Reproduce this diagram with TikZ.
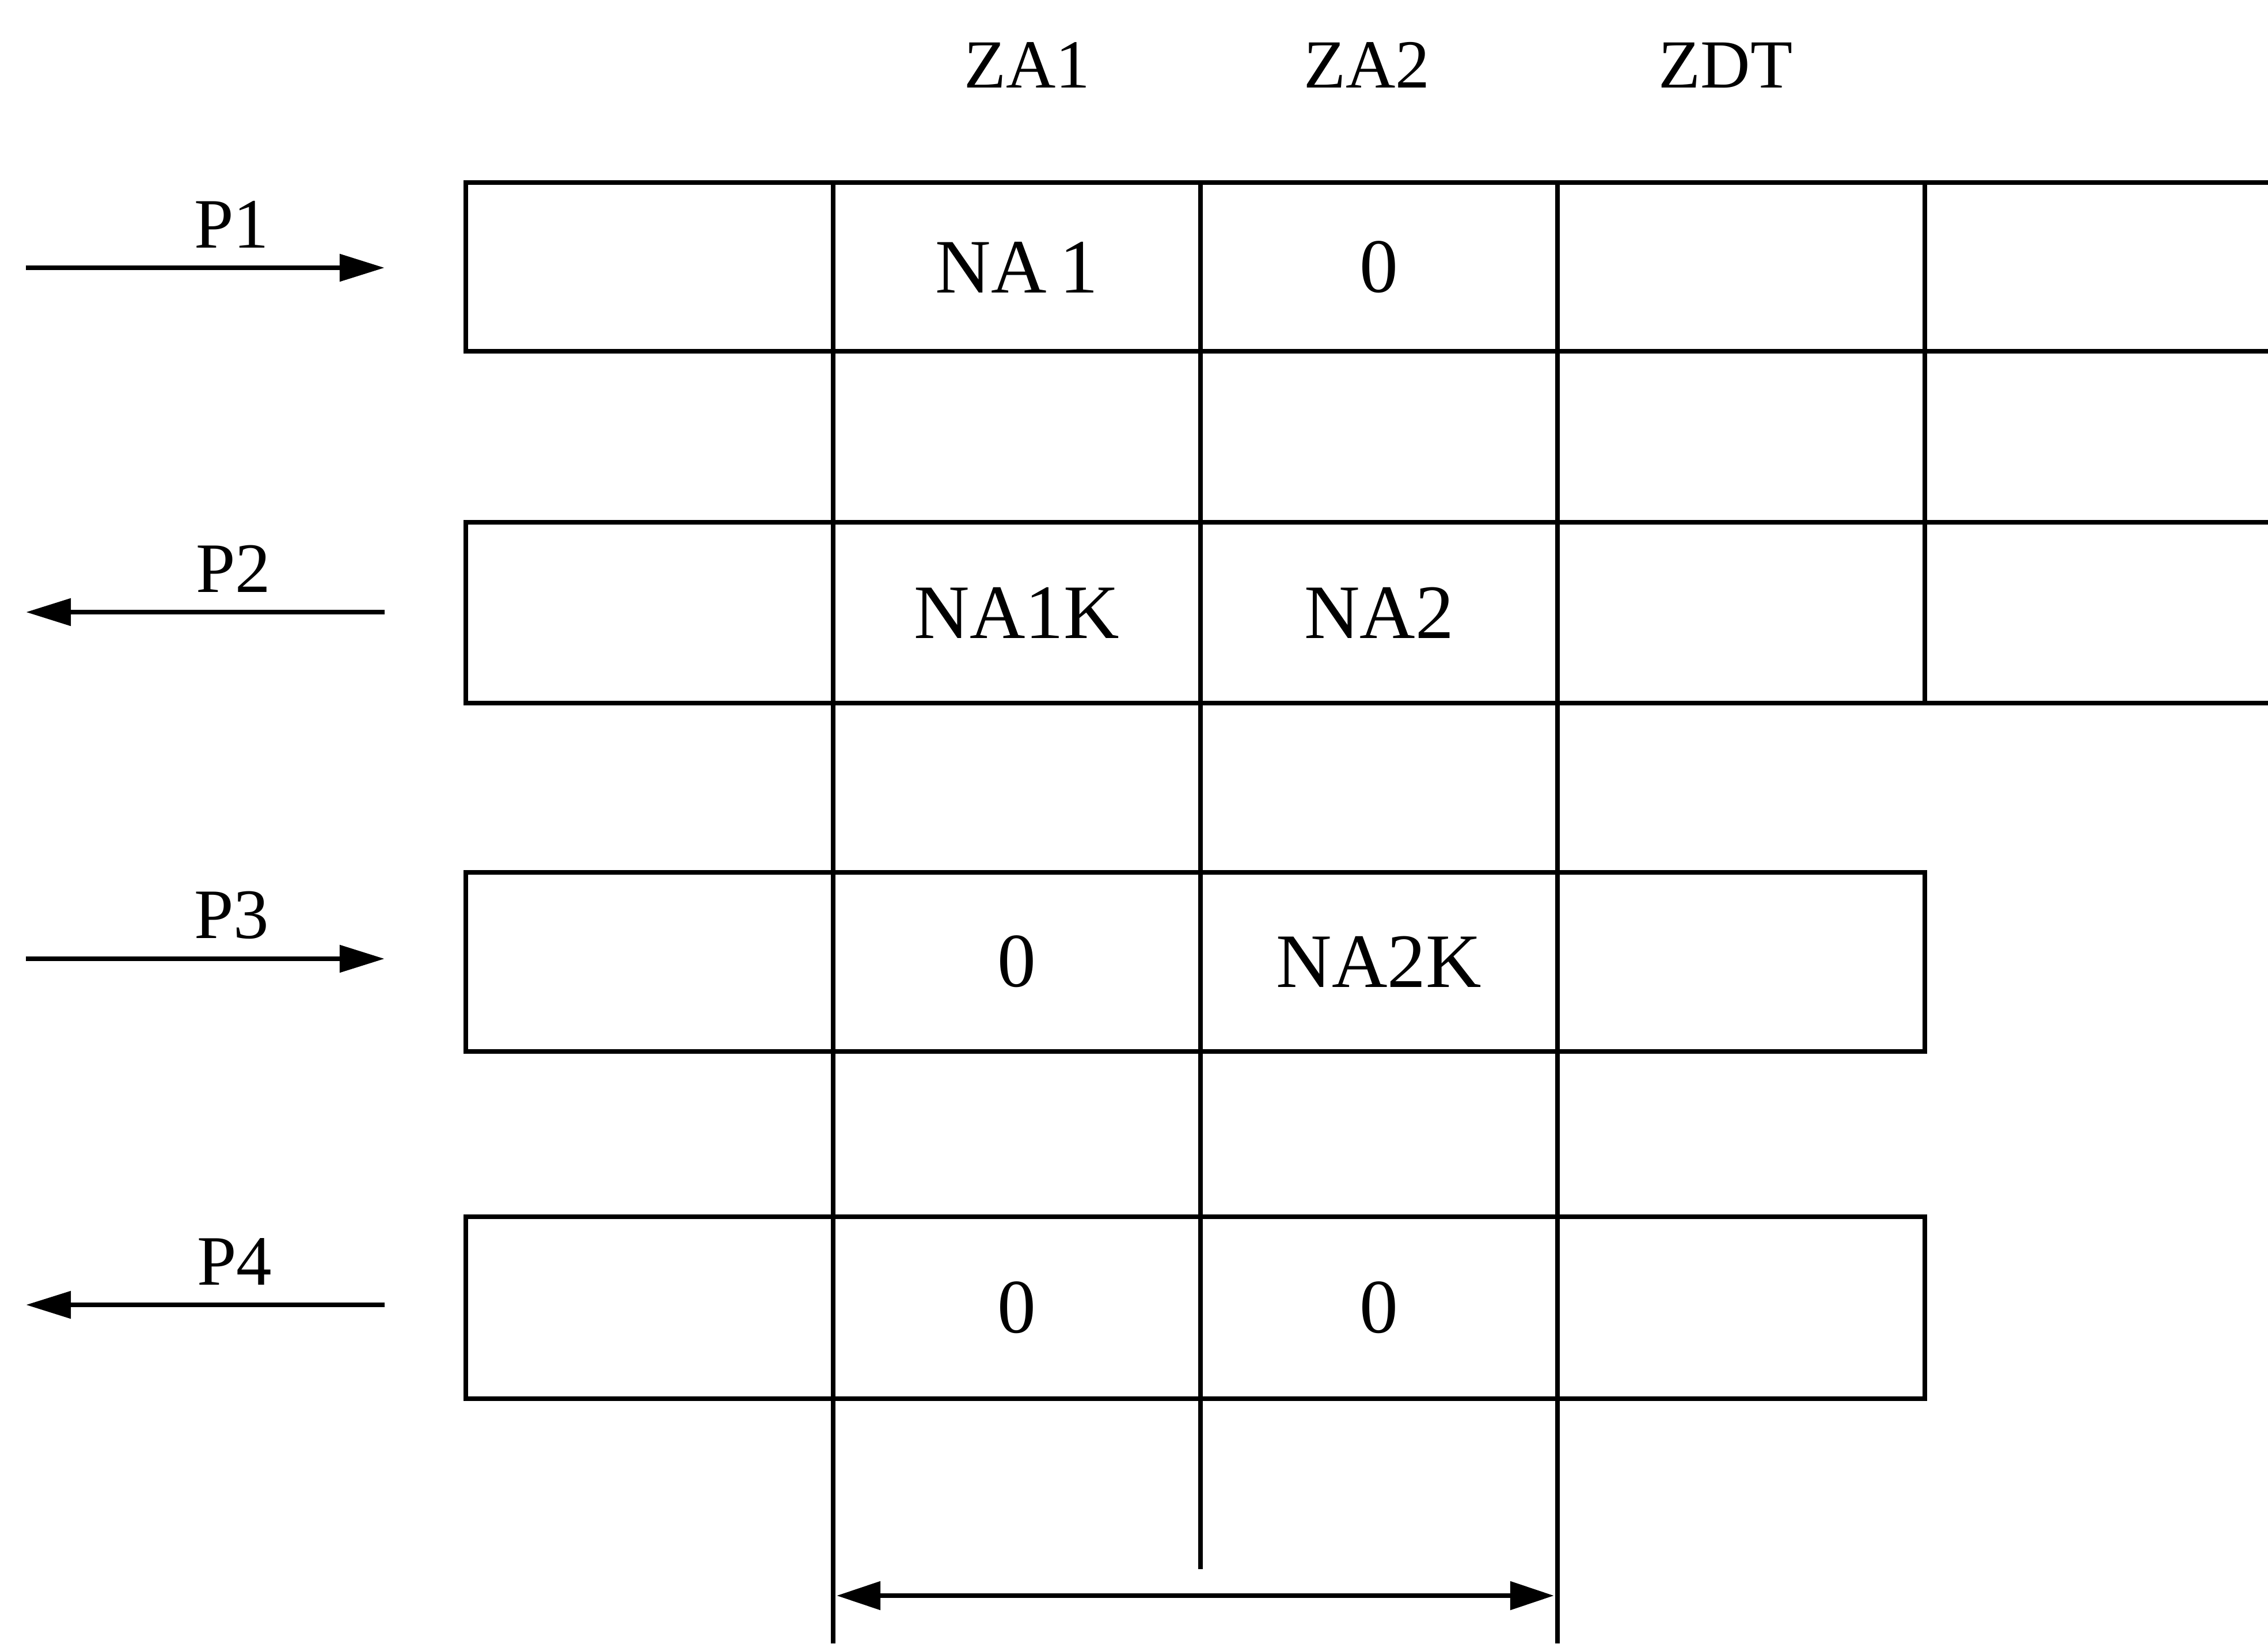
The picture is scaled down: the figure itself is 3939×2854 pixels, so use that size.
\documentclass[tikz,border=0pt]{standalone}
\usepackage{fontspec}
\setmainfont{Liberation Serif}
\usetikzlibrary{arrows.meta}
\begin{document}
\begin{tikzpicture}[x=0.01cm,y=-0.01cm,line width=2.5pt,
  hdr/.style={font=\fontsize{34}{36}\selectfont,inner sep=0pt},
  cell/.style={font=\fontsize{38}{40}\selectfont,inner sep=0pt},
  plab/.style={font=\fontsize{35}{37}\selectfont,inner sep=0pt,anchor=south},
  flow/.style={-{Triangle[length=0.78cm,width=0.46cm]}},
  dimarrow/.style={{Triangle[length=0.76cm,width=0.48cm]}-{Triangle[length=0.76cm,width=0.48cm]}}]
\useasboundingbox (0,0) rectangle (3939,2854);

% headers
\node[hdr] (za1) at (1784,113) {ZA1};
\node[hdr] (za2) at (2374,113) {ZA2};
\node[hdr] (zdt) at (2997,113) {ZDT};

% boxes P1 and P2 (open to the right)
\draw (3939,317) -- (809,317) -- (809,610) -- (3939,610);
\draw (3939,907) -- (809,907) -- (809,1221) -- (3939,1221);
% boxes P3 and P4
\draw (809,1515) rectangle (3343,1826);
\draw (809,2113) rectangle (3343,2429);

% vertical lines
\draw (1447,317) -- (1447,2854);
\draw (2085,317) -- (2085,2725);
\draw (2705,317) -- (2705,2854);
\draw (3343,317) -- (3343,1221);

% cell texts
\node[cell] (c11) at (1766,464) {NA\,1};
\node[cell] (c12) at (2395,464) {0};
\node[cell] (c21) at (1766,1064) {NA1K};
\node[cell] (c22) at (2395,1064) {NA2};
\node[cell] (c31) at (1766,1670) {0};
\node[cell] (c32) at (2395,1670) {NA2K};
\node[cell] (c41) at (1766,2271) {0};
\node[cell] (c42) at (2395,2271) {0};

% side arrows
\coordinate (a1l) at (45,465);   \coordinate (a1r) at (668,465);
\coordinate (a2l) at (45,1063);  \coordinate (a2r) at (668,1063);
\coordinate (a3l) at (45,1665);  \coordinate (a3r) at (668,1665);
\coordinate (a4l) at (45,2266);  \coordinate (a4r) at (668,2266);
\draw[flow] (a1l) -- (a1r);
\draw[flow] (a2r) -- (a2l);
\draw[flow] (a3l) -- (a3r);
\draw[flow] (a4r) -- (a4l);
\node[plab] (p1) at (402,435) {P1};
\node[plab] (p2) at (405,1033) {P2};
\node[plab] (p3) at (402,1635) {P3};
\node[plab] (p4) at (407,2236) {P4};

% dimension arrow
\coordinate (dl) at (1453,2771);
\coordinate (dr) at (2699,2771);
\draw[dimarrow] (dl) -- (dr);
\end{tikzpicture}
\end{document}
